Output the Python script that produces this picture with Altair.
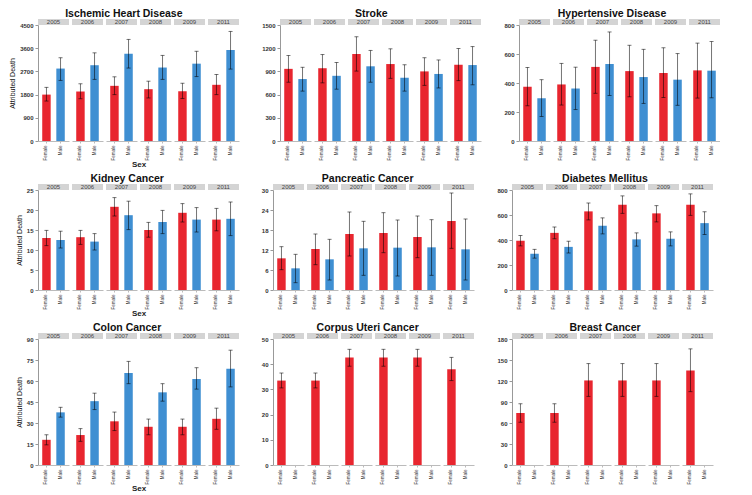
import altair as alt
import pandas as pd

YEARS = [2005, 2006, 2007, 2008, 2009, 2011]
SEXES = ["Female", "Male"]

# Each list: [F2005, M2005, F2006, M2006, F2007, M2007, F2008, M2008, F2009, M2009, F2011, M2011]
IHD_MEAN = [1800, 2810, 1920, 2940, 2140, 3380, 2010, 2850, 1930, 3000, 2180, 3530]
IHD_LO = [1550, 2350, 1640, 2390, 1800, 2830, 1670, 2390, 1650, 2500, 1800, 2790]
IHD_HI = [2080, 3230, 2220, 3420, 2490, 3940, 2320, 3320, 2240, 3480, 2580, 4250]

STROKE_MEAN = [933, 801, 941, 843, 1126, 966, 995, 818, 900, 867, 986, 982]
STROKE_LO = [760, 645, 752, 670, 904, 760, 810, 645, 719, 686, 781, 727]
STROKE_HI = [1106, 953, 1118, 1015, 1348, 1171, 1192, 986, 1077, 1048, 1196, 1221]

HYP_MEAN = [375, 294, 390, 362, 511, 531, 482, 441, 469, 423, 487, 485]
HYP_LO = [243, 169, 248, 217, 329, 314, 305, 259, 300, 246, 296, 298]
HYP_HI = [507, 423, 535, 509, 695, 752, 660, 632, 643, 603, 675, 686]

KID_MEAN = [13.0, 12.5, 13.2, 12.1, 20.8, 18.7, 15.0, 17.0, 19.3, 17.6, 17.6, 17.8]
KID_LO = [11.1, 10.5, 11.4, 10.0, 18.5, 15.1, 13.2, 14.1, 17.0, 14.5, 14.8, 13.6]
KID_HI = [14.9, 14.7, 14.9, 14.1, 23.1, 22.2, 16.9, 19.9, 21.6, 20.6, 20.4, 22.0]

PAN_MEAN = [9.5, 6.5, 12.3, 9.2, 16.8, 12.5, 17.1, 12.7, 15.9, 12.8, 20.7, 12.2]
PAN_LO = [6.1, 2.2, 7.6, 3.0, 10.2, 4.4, 11.2, 4.2, 9.7, 4.4, 12.5, 3.0]
PAN_HI = [13.0, 10.7, 16.8, 15.2, 23.4, 20.6, 23.2, 21.0, 22.2, 21.1, 29.1, 21.3]

DIA_MEAN = [395, 291, 457, 345, 629, 514, 683, 405, 613, 410, 683, 535]
DIA_LO = [353, 255, 410, 296, 561, 449, 613, 351, 545, 353, 597, 444]
DIA_HI = [436, 325, 504, 390, 696, 577, 753, 457, 675, 465, 769, 626]

COL_MEAN = [18.0, 37.6, 21.4, 45.6, 31.2, 65.8, 27.3, 51.9, 27.3, 61.5, 33.0, 68.8]
COL_LO = [14.4, 34.2, 16.9, 39.6, 24.6, 58.1, 21.6, 45.6, 21.6, 54.2, 25.5, 55.8]
COL_HI = [21.6, 41.2, 26.0, 51.3, 37.8, 74.0, 32.8, 58.1, 32.8, 69.5, 40.6, 82.0]

CU_MEAN = [33.5, None, 33.5, None, 42.7, None, 42.7, None, 42.7, None, 38.0, None]
CU_LO = [30.6, None, 30.6, None, 39.2, None, 39.2, None, 39.2, None, 33.5, None]
CU_HI = [36.5, None, 36.5, None, 45.9, None, 45.9, None, 45.9, None, 42.7, None]

BR_MEAN = [74.3, None, 74.3, None, 120.8, None, 120.8, None, 120.8, None, 134.9, None]
BR_LO = [61.1, None, 61.1, None, 98.0, None, 98.0, None, 98.0, None, 104.8, None]
BR_HI = [87.5, None, 87.5, None, 144.9, None, 144.9, None, 144.9, None, 165.9, None]

RED = "#E8262F"
BLUE = "#3F8FD2"
STRIP = "#D4D4D4"
W = 31


def panel(title, mean, lo, hi, ymax, step, height, first_col, show_sex):
    df = pd.DataFrame({
        "year": [y for y in YEARS for _ in SEXES],
        "sex": SEXES * len(YEARS),
        "mean": pd.array(mean, dtype="Float64").astype(float),
        "lo": pd.array(lo, dtype="Float64").astype(float),
        "hi": pd.array(hi, dtype="Float64").astype(float),
    })
    xscale = alt.Scale(domain=SEXES, paddingInner=0.4, paddingOuter=0.3)
    xaxis = alt.Axis(title=None, labelAngle=270, labelFontSize=4.5, labelColor="#333",
                     labelAlign="right", labelBaseline="middle", tickSize=2,
                     domainColor="#BBBBBB", tickColor="#BBBBBB", labelPadding=2)
    yscale = alt.Scale(domain=[0, ymax], nice=False)
    yaxis = alt.Axis(values=list(range(0, ymax + 1, step)), format="d",
                     title="Attributed Death" if first_col else None,
                     titleFontSize=7, titleFontWeight="normal", titleColor="#111",
                     titlePadding=4,
                     labelFontSize=6, labelFontWeight="bold", labelColor="#333",
                     tickSize=3, domainColor="#999999", tickColor="#999999",
                     grid=False)
    x = alt.X("sex:N", scale=xscale, axis=xaxis)
    bars = alt.Chart().mark_bar().encode(
        x=x,
        y=alt.Y("mean:Q", scale=yscale, axis=yaxis),
        color=alt.Color("sex:N", scale=alt.Scale(domain=SEXES, range=[RED, BLUE]), legend=None),
    )
    rules = alt.Chart().mark_rule(color="black", opacity=0.55, strokeWidth=1).encode(
        x=x, y=alt.Y("lo:Q", scale=yscale, axis=yaxis), y2="hi:Q"
    )
    cap_hi = alt.Chart().mark_tick(color="black", opacity=0.55, size=4, thickness=1).encode(
        x=x, y=alt.Y("hi:Q", scale=yscale, axis=yaxis)
    )
    cap_lo = alt.Chart().mark_tick(color="black", opacity=0.55, size=4, thickness=1).encode(
        x=x, y=alt.Y("lo:Q", scale=yscale, axis=yaxis)
    )
    strip = alt.Chart().transform_filter(alt.datum.sex == "Female").mark_rect(color=STRIP).encode(
        x=alt.value(0), x2=alt.value(W), y=alt.value(-6), y2=alt.value(0)
    )
    label = alt.Chart().transform_filter(alt.datum.sex == "Female").mark_text(
        fontSize=6, color="#444", baseline="middle", align="center"
    ).encode(x=alt.value(W / 2), y=alt.value(-3), text="year:N")
    layer = alt.layer(bars, rules, cap_hi, cap_lo, strip, label, data=df).properties(
        width=W, height=height
    )
    header = alt.Header(labels=False, title="Sex" if show_sex else None, titleOrient="bottom",
                        titleFontSize=8, titleFontWeight="bold", titleColor="#222",
                        titlePadding=-10, labelPadding=0)
    return layer.facet(column=alt.Column("year:O", header=header), spacing=3).properties(
        title=alt.TitleParams(title, fontSize=10.5, fontWeight="bold", color="#111",
                              anchor="middle", offset=0)
    )


row1 = alt.hconcat(
    panel("Ischemic Heart Disease", IHD_MEAN, IHD_LO, IHD_HI, 4500, 900, 116, True, True),
    panel("Stroke", STROKE_MEAN, STROKE_LO, STROKE_HI, 1500, 300, 116, False, False),
    panel("Hypertensive Disease", HYP_MEAN, HYP_LO, HYP_HI, 800, 200, 116, False, False),
    spacing=22,
)
row2 = alt.hconcat(
    panel("Kidney Cancer", KID_MEAN, KID_LO, KID_HI, 25, 5, 100, True, True),
    panel("Pancreatic Cancer", PAN_MEAN, PAN_LO, PAN_HI, 30, 6, 100, False, False),
    panel("Diabetes Mellitus", DIA_MEAN, DIA_LO, DIA_HI, 800, 200, 100, False, False),
    spacing=22,
)
row3 = alt.hconcat(
    panel("Colon Cancer", COL_MEAN, COL_LO, COL_HI, 90, 15, 126, True, True),
    panel("Corpus Uteri Cancer", CU_MEAN, CU_LO, CU_HI, 50, 10, 126, False, False),
    panel("Breast Cancer", BR_MEAN, BR_LO, BR_HI, 180, 30, 126, False, False),
    spacing=22,
)

chart = alt.vconcat(row1, row2, row3, spacing=4).properties(
    padding={"left": 0, "top": 0, "right": 0, "bottom": 0}
).configure(font="Liberation Sans").configure_view(stroke=None)

chart.save("out.html", embed_options={"renderer": "svg", "actions": False})
